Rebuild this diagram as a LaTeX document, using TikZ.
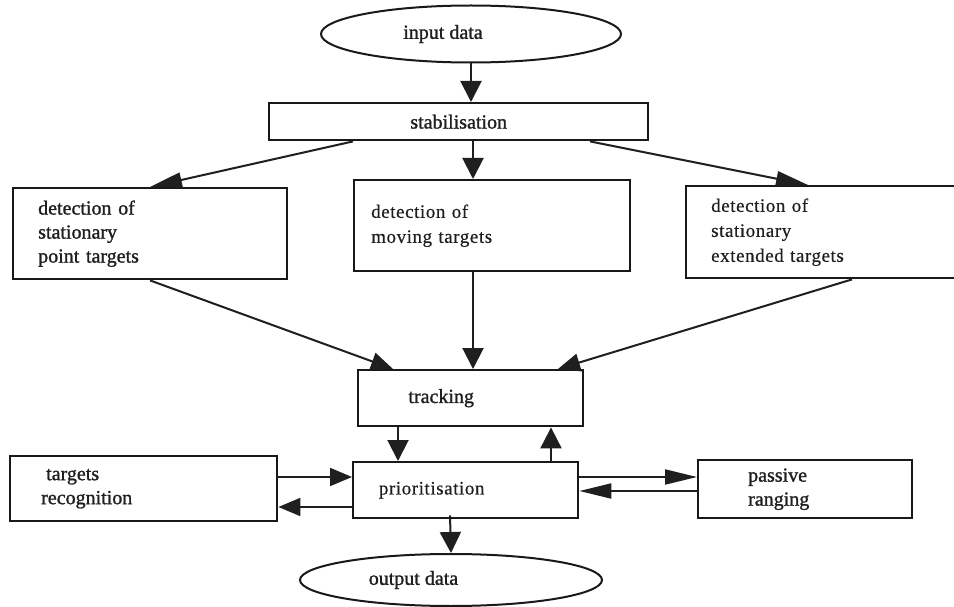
\documentclass[tikz,border=0pt]{standalone}
\usepackage{fontspec}
\setmainfont{Liberation Serif}
\newfontfamily\heavyfont[FakeBold=1.2]{Liberation Serif}
\newfontfamily\spacedfont[LetterSpace=3,FakeBold=0.4]{Liberation Serif}
\usetikzlibrary{arrows.meta,shapes.geometric}

\tikzset{
  heavy/.style={font=\heavyfont\fontsize{20}{24}\selectfont},
  light/.style={font=\spacedfont\fontsize{19}{25}\selectfont},
  box/.style={draw=black!90, line width=2.4pt, rectangle, anchor=north west,
    inner ysep=2pt, text=black!88},
  textbox/.style={box, align=left},
  oval/.style={draw=black!90, line width=2pt, ellipse, inner sep=0pt, text=black!88},
  conn/.style={draw=black!88, line width=2pt},
  bigtip/.style={conn, -{Triangle[length=21pt,width=21pt]}},
  slanttip/.style={conn, -{Triangle[length=32pt,width=15pt]}},
  sidetip/.style={conn, -{Triangle[length=22pt,width=18pt]}},
  longtip/.style={conn, -{Triangle[length=32pt,width=15pt]}},
}

\begin{document}
\begin{tikzpicture}[x=1pt,y=-1pt]
\useasboundingbox[fill=white] (0,0) rectangle (954,607);

% terminals
\node[oval, heavy, minimum width=300pt, minimum height=57pt] (inp) at (471,34)
  {input data\hspace*{56pt}};
\node[oval, heavy, minimum width=302pt, minimum height=52pt] (out) at (451,580)
  {output data\hspace*{75pt}};

% processing stages
\node[box, heavy, minimum width=379pt, minimum height=37pt] (stab) at (268,102)
  {stabilisation};

\node[textbox, heavy, inner xsep=25pt, text width=224pt, minimum height=91pt] (dsp) at (12,187)
  {detection of\\stationary\\point targets\\[-6pt]};
\node[textbox, light, inner xsep=17pt, text width=242pt, minimum height=91pt] (dmt) at (353,179)
  {detection of\\moving targets};
\node[textbox, light, inner xsep=25pt, text width=230pt, minimum height=92pt] (dse) at (685,185)
  {detection of\\stationary\\extended targets\\[-10pt]};

\node[box, heavy, minimum width=225pt, minimum height=56pt] (trk) at (357,369)
  {tracking\hspace*{59pt}};
\node[box, light, minimum width=225pt, minimum height=56pt] (pri) at (352,461)
  {prioritisation\hspace*{68pt}};

\node[textbox, heavy, inner xsep=31pt, text width=205pt, minimum height=65pt] (rec) at (9,455)
  {\hspace*{5pt}targets\\recognition};
\node[textbox, heavy, inner xsep=50pt, text width=114pt, minimum height=58pt] (pas) at (697,459)
  {passive\\ranging};

% flow
\draw[bigtip] (inp.south) -- (inp.south |- stab.north);

\draw[slanttip] ([xshift=85pt]stab.south west) -- ([xshift=138pt]dsp.north west);
\draw[bigtip]   ([xshift=205pt]stab.south west) -- ([xshift=120pt]dmt.north west);
\draw[slanttip] ([xshift=322pt]stab.south west) -- ([xshift=123pt]dse.north west);

\draw[sidetip] ([xshift=138pt]dsp.south west) -- ([xshift=36pt]trk.north west);
\draw[bigtip]  ([xshift=120pt]dmt.south west) -- ([xshift=116pt]trk.north west);
\draw[sidetip] ([xshift=167pt]dse.south west) -- ([xshift=201pt]trk.north west);

\draw[bigtip] ([xshift=41pt]trk.south west) -- ([xshift=46pt]pri.north west);
\draw[bigtip] ([xshift=199pt]pri.north west) -- ([xshift=194pt]trk.south west);

\draw[sidetip] ([yshift=-22pt]rec.north east) -- ([yshift=-16pt]pri.north west);
\draw[sidetip] ([yshift=-46pt]pri.north west) -- ([yshift=-52pt]rec.north east);

\draw[longtip] ([yshift=-16pt]pri.north east) -- ([yshift=-18pt]pas.north west);
\draw[longtip] ([yshift=-32pt]pas.north west) -- ([yshift=-30pt]pri.north east);

\draw[bigtip] ([xshift=98pt,yshift=4pt]pri.south west) -- (out.north);
\end{tikzpicture}
\end{document}
